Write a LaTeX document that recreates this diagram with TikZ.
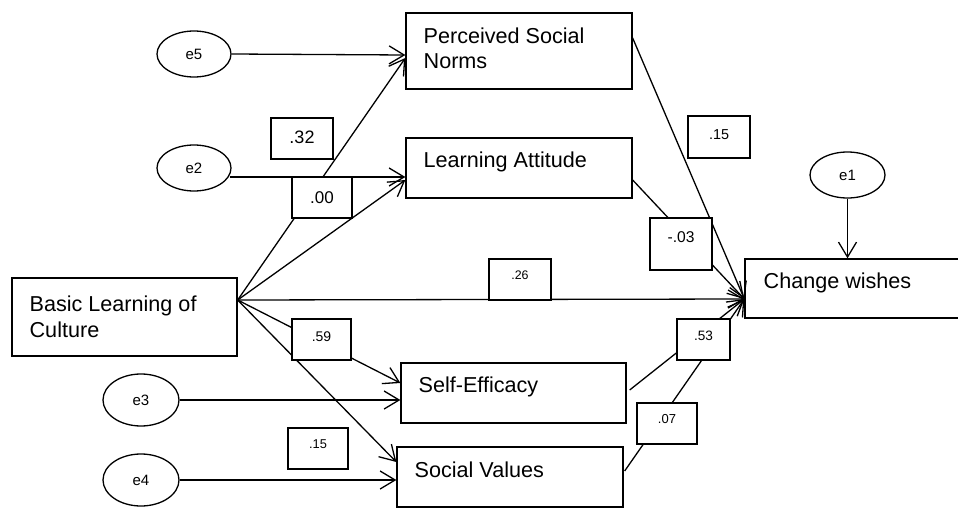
\documentclass[tikz,border=0pt]{standalone}
\usepackage{fontspec}
\setmainfont{Liberation Sans}
\usetikzlibrary{arrows.meta,shapes.geometric,calc}
\begin{document}
\begin{tikzpicture}[x=0.5pt,y=-0.5pt,line width=0.65pt,
  varbox/.style={draw,rectangle,inner sep=0pt},
  errnode/.style={draw,ellipse,inner sep=0pt,minimum width=37pt,font=\fontsize{7.5pt}{9pt}\selectfont},
  vtext/.style={inner sep=0pt,anchor=base west,align=left,font=\fontsize{10.8pt}{13pt}\selectfont},
  coef/.style={draw,fill=white,rectangle,inner sep=0pt,minimum height=20.5pt,minimum width=31pt},
  arr/.style={-{Straight Barb[length=7.5pt,width=9pt]}}
]
\useasboundingbox (0,0) rectangle (958,508);
% variable boxes
\node[varbox,minimum width=113pt,minimum height=38pt] (psn) at (519,51) {};
\node[vtext] (psnt) at (423,69) {Perceived Social\\Norms};
\node[varbox,minimum width=113pt,minimum height=30pt] (la) at (519,168) {};
\node[vtext] (lat) at (423,168) {Learning Attitude};
\node[varbox,minimum width=112.5pt,minimum height=39pt] (blc) at (124.5,317) {};
\node[vtext] (blct) at (29,337) {Basic Learning of\\Culture};
\node[varbox,minimum width=112.5pt,minimum height=30pt] (se) at (513.5,393) {};
\node[vtext] (set) at (418,392) {Self-Efficacy};
\node[varbox,minimum width=113pt,minimum height=30pt] (sv) at (510,477) {};
\node[vtext] (svt) at (414,477) {Social Values};
\node[varbox,minimum width=115pt,minimum height=29.5pt] (cw) at (860,288.5) {};
\node[vtext] (cwt) at (763,288) {Change wishes};
% error terms
\node[errnode,minimum height=23pt] (e5) at (194,54) {e5};
\node[errnode,minimum height=23pt] (e2) at (194,168) {e2};
\node[errnode,minimum width=37.5pt,minimum height=23pt] (e1) at (847.5,175) {e1};
\node[errnode,minimum width=38pt,minimum height=26pt] (e3) at (141,400) {e3};
\node[errnode,minimum width=38pt,minimum height=26pt] (e4) at (141,480) {e4};
% junction points
\coordinate (bo) at ($(blc.east)+(0,-17)$);
\coordinate (ci) at ($(cw.west)+(0,10.5)$);
% connectors
\draw[arr] (e5.east) -- ($(psn.west)+(0,4)$);
\draw[arr] ($(e2.east)+(-2,9)$) -- ($(la.west)+(0,9)$);
\draw[arr] (e3.east) -- ($(se.west)+(0,7)$);
\draw[arr] (e4.east) -- ($(sv.west)+(0,3)$);
\draw[arr] (bo) -- ($(psn.west)+(0,7)$);
\draw[arr] (bo) -- ($(la.west)+(0,12)$);
\draw[arr] (bo) -- (ci);
\draw[arr] (bo) -- ($(se.west)+(0,-10)$);
\draw[arr] (bo) -- ($(sv.west)+(0,-15)$);
\draw[arr] ($(psn.east)+(0,-13)$) -- (ci);
\draw[arr] ($(la.east)+(0,12)$) -- (ci);
\draw[arr] ($(se.east)+(3,-3)$) -- (ci);
\draw[arr] ($(sv.east)+(1,-6)$) -- (ci);
\draw[arr] (e1.south) -- (e1.south |- cw.north);
% coefficients
\node[coef,text depth=1.5pt,font=\fontsize{9pt}{10pt}\selectfont] (c32) at (302,138.5) {.32};
\node[coef,minimum width=30pt,font=\fontsize{8.5pt}{10pt}\selectfont] (c00) at (322,197.5) {.00};
\node[coef,minimum height=21pt,text depth=2pt,font=\fontsize{7.2pt}{9pt}\selectfont] (c15a) at (719,137) {.15};
\node[coef,minimum height=26pt,text depth=7pt,font=\fontsize{7.8pt}{9pt}\selectfont] (c03) at (681,244) {-.03};
\node[coef,text depth=4.5pt,font=\fontsize{6.2pt}{8pt}\selectfont] (c26) at (520,279.5) {.26};
\node[coef,minimum width=29.5pt,text depth=2.5pt,font=\fontsize{7pt}{8pt}\selectfont] (c59) at (321.5,339.5) {.59};
\node[coef,minimum width=30pt,text depth=4.5pt,font=\fontsize{6.4pt}{8pt}\selectfont] (c15b) at (318,448.5) {.15};
\node[coef,minimum width=26.5pt,text depth=3.5pt,font=\fontsize{6.8pt}{8pt}\selectfont] (c53) at (703.5,339.5) {.53};
\node[coef,minimum width=30pt,text depth=4.5pt,font=\fontsize{6.5pt}{8pt}\selectfont] (c07) at (667,423.5) {.07};
\end{tikzpicture}
\end{document}
